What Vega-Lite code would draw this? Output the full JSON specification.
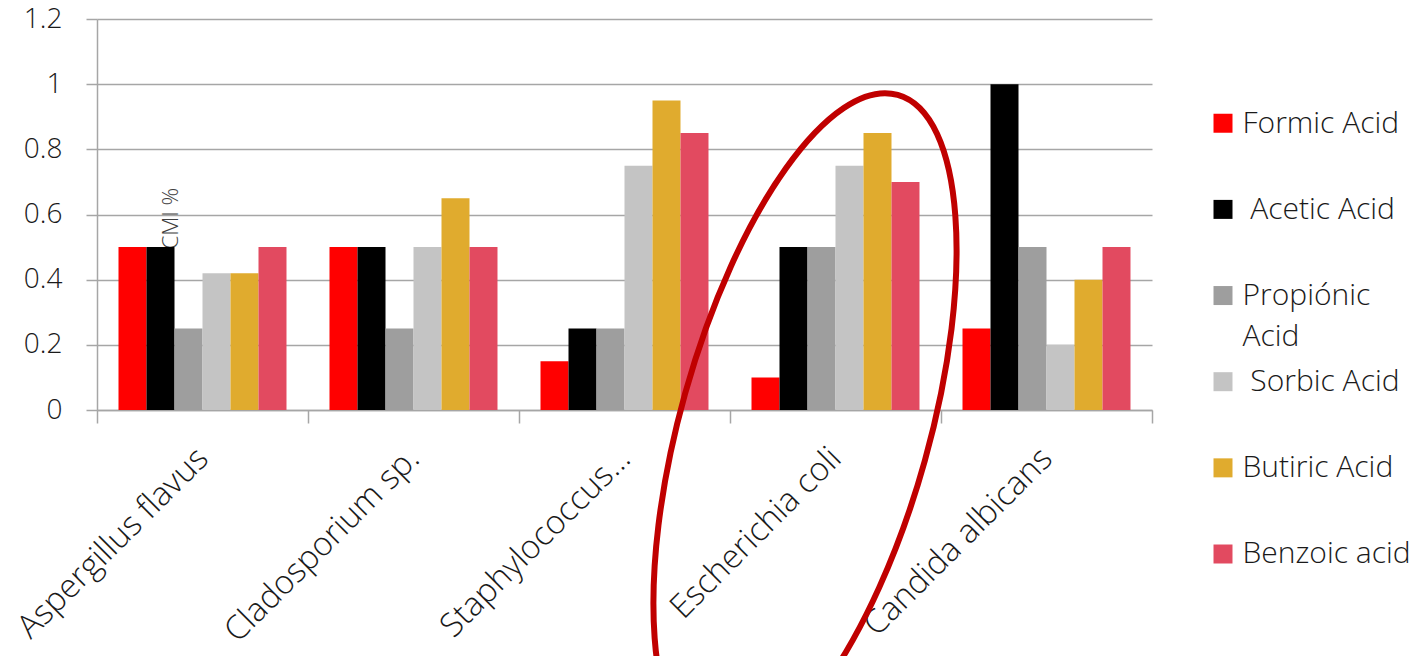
{
  "$schema": "https://vega.github.io/schema/vega-lite/v6.json",
  "background": "white",
  "padding": {"left": 11, "top": 5, "right": 0, "bottom": 0},
  "config": {"view": {"stroke": null}, "font": "Open Sans", "concat": {"spacing": 60}},
  "datasets": {
    "cmi": [
      {"organism": "Aspergillus flavus", "acid": "Formic Acid", "cmi": 0.5},
      {"organism": "Aspergillus flavus", "acid": "Acetic Acid", "cmi": 0.5},
      {"organism": "Aspergillus flavus", "acid": "Propiónic Acid", "cmi": 0.25},
      {"organism": "Aspergillus flavus", "acid": "Sorbic Acid", "cmi": 0.42},
      {"organism": "Aspergillus flavus", "acid": "Butiric Acid", "cmi": 0.42},
      {"organism": "Aspergillus flavus", "acid": "Benzoic acid", "cmi": 0.5},
      {"organism": "Cladosporium sp.", "acid": "Formic Acid", "cmi": 0.5},
      {"organism": "Cladosporium sp.", "acid": "Acetic Acid", "cmi": 0.5},
      {"organism": "Cladosporium sp.", "acid": "Propiónic Acid", "cmi": 0.25},
      {"organism": "Cladosporium sp.", "acid": "Sorbic Acid", "cmi": 0.5},
      {"organism": "Cladosporium sp.", "acid": "Butiric Acid", "cmi": 0.65},
      {"organism": "Cladosporium sp.", "acid": "Benzoic acid", "cmi": 0.5},
      {"organism": "Staphylococcus...", "acid": "Formic Acid", "cmi": 0.15},
      {"organism": "Staphylococcus...", "acid": "Acetic Acid", "cmi": 0.25},
      {"organism": "Staphylococcus...", "acid": "Propiónic Acid", "cmi": 0.25},
      {"organism": "Staphylococcus...", "acid": "Sorbic Acid", "cmi": 0.75},
      {"organism": "Staphylococcus...", "acid": "Butiric Acid", "cmi": 0.95},
      {"organism": "Staphylococcus...", "acid": "Benzoic acid", "cmi": 0.85},
      {"organism": "Escherichia coli", "acid": "Formic Acid", "cmi": 0.1},
      {"organism": "Escherichia coli", "acid": "Acetic Acid", "cmi": 0.5},
      {"organism": "Escherichia coli", "acid": "Propiónic Acid", "cmi": 0.5},
      {"organism": "Escherichia coli", "acid": "Sorbic Acid", "cmi": 0.75},
      {"organism": "Escherichia coli", "acid": "Butiric Acid", "cmi": 0.85},
      {"organism": "Escherichia coli", "acid": "Benzoic acid", "cmi": 0.7},
      {"organism": "Candida albicans", "acid": "Formic Acid", "cmi": 0.25},
      {"organism": "Candida albicans", "acid": "Acetic Acid", "cmi": 1.0},
      {"organism": "Candida albicans", "acid": "Propiónic Acid", "cmi": 0.5},
      {"organism": "Candida albicans", "acid": "Sorbic Acid", "cmi": 0.2},
      {"organism": "Candida albicans", "acid": "Butiric Acid", "cmi": 0.4},
      {"organism": "Candida albicans", "acid": "Benzoic acid", "cmi": 0.5}
    ],
    "acids": [
      {"acid": "Formic Acid", "label": "Formic Acid"},
      {"acid": "Acetic Acid", "label": "\u200b\u00a0Acetic Acid"},
      {"acid": "Propiónic Acid", "label": "Propiónic\nAcid"},
      {"acid": "Sorbic Acid", "label": "\u200b\u00a0Sorbic Acid"},
      {"acid": "Butiric Acid", "label": "Butiric Acid"},
      {"acid": "Benzoic acid", "label": "Benzoic acid"}
    ]
  },
  "hconcat": [
    {
      "width": 1055,
      "height": 391,
      "data": {"name": "cmi"},
      "layer": [
        {
          "mark": {"type": "bar"},
          "encoding": {
            "x": {
              "field": "organism", "type": "nominal",
              "scale": {"domain": ["Aspergillus flavus", "Cladosporium sp.", "Staphylococcus...", "Escherichia coli", "Candida albicans"], "paddingInner": 0, "paddingOuter": 0},
              "axis": {
                "title": null, "tickBand": "extent", "labelAngle": -45, "labelAlign": "right", "labelBaseline": "middle",
                "labelPadding": 30, "labelFontSize": 33, "labelFontWeight": 300, "labelColor": "#1a1a1a", "labelLimit": 500, "labelOverlap": false,
                "tickSize": 13, "tickColor": "#a6a6a6", "tickWidth": 1.5, "domainColor": "#a6a6a6", "domainWidth": 1.5
              }
            },
            "xOffset": {
              "field": "acid", "type": "nominal",
              "scale": {"domain": ["Formic Acid", "Acetic Acid", "Propiónic Acid", "Sorbic Acid", "Butiric Acid", "Benzoic acid"], "paddingInner": 0, "paddingOuter": 0.768}
            },
            "y": {
              "field": "cmi", "type": "quantitative",
              "scale": {"domain": [0, 1.2]},
              "axis": {
                "title": "CMI %", "titleX": 80, "titleY": 199, "titleAngle": 270, "titleAlign": "center", "titleBaseline": "alphabetic",
                "titleFontSize": 22, "titleFontWeight": 300, "titleColor": "#404040",
                "values": [0, 0.2, 0.4, 0.6, 0.8, 1, 1.2], "format": "~g",
                "labelFontSize": 28, "labelFontWeight": 300, "labelColor": "#1a1a1a", "labelPadding": 24,
                "grid": true, "gridColor": "#a6a6a6", "gridWidth": 1.5,
                "tickSize": 11, "tickColor": "#a6a6a6", "tickWidth": 1.5, "domainColor": "#a6a6a6", "domainWidth": 1.5
              }
            },
            "color": {
              "field": "acid", "type": "nominal",
              "scale": {"domain": ["Formic Acid", "Acetic Acid", "Propiónic Acid", "Sorbic Acid", "Butiric Acid", "Benzoic acid"], "range": ["#ff0000", "#000000", "#9e9e9e", "#c4c4c4", "#e0ab2e", "#e24a60"]},
              "legend": null
            }
          }
        },
        {
          "data": {"values": [{"note": "highlight"}]},
          "mark": {
            "type": "point",
            "shape": "M-0.0852,-0.9762C0.1142,-0.9762,0.2758,-0.5285,0.2758,0.0238C0.2758,0.5761,0.1142,1.0238,-0.0852,1.0238C-0.2846,1.0238,-0.4462,0.5761,-0.4462,0.0238C-0.4462,-0.5285,-0.2846,-0.9762,-0.0852,-0.9762Z",
            "size": 475548, "angle": 15.6, "filled": false, "stroke": "#c00000", "strokeWidth": 6, "opacity": 1, "strokeOpacity": 1, "clip": false
          },
          "encoding": {
            "x": {"datum": "Escherichia coli", "type": "nominal"},
            "y": {"datum": -0.0522, "type": "quantitative"}
          }
        }
      ]
    },
    {
      "width": 180,
      "height": 535,
      "data": {"name": "acids"},
      "encoding": {
        "y": {"field": "acid", "type": "nominal", "sort": null, "scale": {"type": "point", "padding": 0.605, "align": 1}, "axis": null}
      },
      "layer": [
        {
          "mark": {"type": "square", "size": 361, "opacity": 1},
          "encoding": {
            "x": {"datum": 0, "type": "quantitative", "scale": {"domain": [0, 1]}, "axis": null},
            "color": {
              "field": "acid", "type": "nominal",
              "scale": {"domain": ["Formic Acid", "Acetic Acid", "Propiónic Acid", "Sorbic Acid", "Butiric Acid", "Benzoic acid"], "range": ["#ff0000", "#000000", "#9e9e9e", "#c4c4c4", "#e0ab2e", "#e24a60"]},
              "legend": null
            }
          }
        },
        {
          "mark": {"type": "text", "align": "left", "baseline": "top", "dx": 19.5, "dy": -14.7, "fontSize": 30, "fontWeight": 300, "lineBreak": "\n", "lineHeight": 41, "color": "#1a1a1a"},
          "encoding": {
            "x": {"datum": 0, "type": "quantitative"},
            "text": {"field": "label"}
          }
        }
      ]
    }
  ]
}
